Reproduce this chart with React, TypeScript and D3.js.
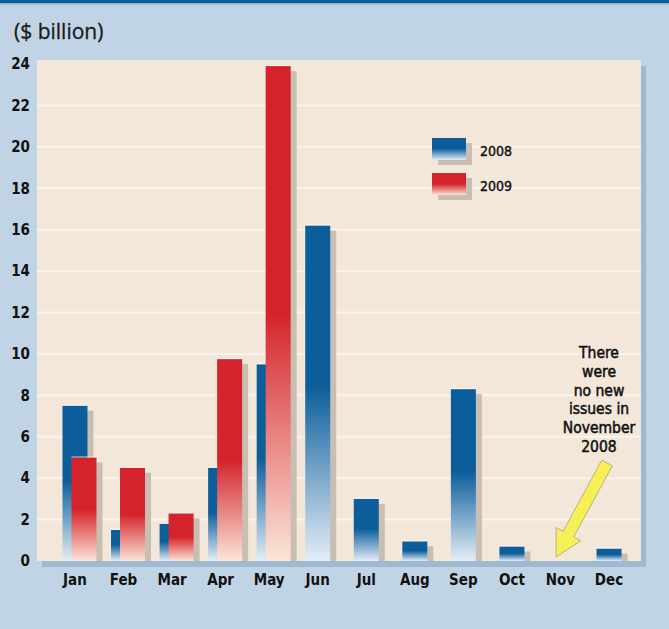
import React from "react";
import * as d3 from "d3";

const months = ["Jan", "Feb", "Mar", "Apr", "May", "Jun", "Jul", "Aug", "Sep", "Oct", "Nov", "Dec"];
const values2008 = [7.5, 1.5, 1.8, 4.5, 9.5, 16.2, 3.0, 0.95, 8.3, 0.7, 0, 0.6];
const values2009: (number | null)[] = [5.0, 4.5, 2.3, 9.75, 23.9, null, null, null, null, null, null, null];
const yTicks = [0, 2, 4, 6, 8, 10, 12, 14, 16, 18, 20, 22, 24];
const seriesNames = ["2008", "2009"];
const unitLabel = "($ billion)";
const noteLines = ["There", "were", "no new", "issues in", "November", "2008"];

const W = 669;
const H = 629;
const plot = { x0: 37, x1: 641, y0: 60, y1: 561 };
const FONT = "'DejaVu Sans Condensed', 'Arial Narrow', sans-serif";

export default function App() {
  const y = d3.scaleLinear().domain([0, 24]).range([561, 64]);
  const x = d3.scaleBand().domain(months).range([50.7, 633.3]).padding(0);
  const step = x.bandwidth();
  const cx = (m: string) => (x(m) as number) + step / 2;
  const barW = 25;
  const sh = { dx: 6, dy: 5 };

  const blueSolid = "#0c5e9b";
  const blueLight = "#e4edf6";
  const redSolid = "#d5232b";
  const redLight = "#fbe5d8";

  const bar = (x0: number, v: number, fill: string, key: string) => {
    const top = y(v);
    const bottom = y(0);
    const h = bottom - top;
    return (
      <g key={key}>
        <rect x={x0 + sh.dx} y={Math.min(top + sh.dy, bottom)} width={barW} height={Math.max(0, bottom - top - sh.dy)} fill="#c8beb2" />
        <rect x={x0} y={top} width={barW} height={h} fill={fill} />
        <line x1={x0} x2={x0 + barW} y1={top - 0.5} y2={top - 0.5} stroke="#ffffff" strokeOpacity={0.7} strokeWidth={1} />
      </g>
    );
  };

  // arrow geometry
  const tail: [number, number] = [607, 463];
  const tip: [number, number] = [556, 557];
  const ang = Math.atan2(tip[1] - tail[1], tip[0] - tail[0]);
  const len = Math.hypot(tip[0] - tail[0], tip[1] - tail[1]);
  const ux = Math.cos(ang), uy = Math.sin(ang);
  const px = -uy, py = ux;
  const shaftHalf = 6, headHalf = 14, headLen = 26;
  const pt = (a: number, b: number) => [tail[0] + ux * a + px * b, tail[1] + uy * a + py * b];
  const arrowPts = [
    pt(0, -shaftHalf),
    pt(len - headLen, -shaftHalf),
    pt(len - headLen, -headHalf),
    pt(len, 0),
    pt(len - headLen, headHalf),
    pt(len - headLen, shaftHalf),
    pt(0, shaftHalf),
  ].map((p) => p.join(",")).join(" ");

  return (
    <svg width={W} height={H} style={{ position: "absolute", left: 0, top: 0 }} fontFamily={FONT}>
      <defs>
        <linearGradient id="gBlue" x1="0" y1="0" x2="0" y2="1">
          <stop offset="0" stopColor={blueSolid} />
          <stop offset="0.48" stopColor={blueSolid} />
          <stop offset="1" stopColor={blueLight} />
        </linearGradient>
        <linearGradient id="gRed" x1="0" y1="0" x2="0" y2="1">
          <stop offset="0" stopColor={redSolid} />
          <stop offset="0.5" stopColor={redSolid} />
          <stop offset="1" stopColor={redLight} />
        </linearGradient>
      </defs>
      <rect x={0} y={0} width={W} height={H} fill="#c1d4e6" />
      <rect x={0} y={0} width={W} height={3.5} fill="#0f5c98" />
      <rect x={0} y={3.5} width={W} height={2} fill="#a9c3dc" />

      <text x={14} y={39} fontSize={21} fill="#1a1a1a" stroke="#1a1a1a" strokeWidth={0.3} style={{ fontFamily: "'Open Sans', 'DejaVu Sans', sans-serif" }}>{unitLabel}</text>

      {/* plot frame with shadow */}
      <rect x={plot.x0 + 5} y={plot.y0 + 6} width={plot.x1 - plot.x0} height={plot.y1 - plot.y0} fill="#9fb9d4" />
      <rect x={plot.x0} y={plot.y0} width={plot.x1 - plot.x0} height={plot.y1 - plot.y0} fill="#f3e7da" />

      {yTicks.map((t) => (
        <g key={t}>
          {t > 0 && t < 24 && (
            <line x1={plot.x0} x2={plot.x1} y1={y(t)} y2={y(t)} stroke="#fbf4ec" strokeWidth={2} />
          )}
          <text x={30} y={y(t)} dy="0.35em" textAnchor="end" fontSize={15} fontWeight={700} fill="#111">{t}</text>
        </g>
      ))}

      {months.map((m, i) => (
        <g key={m}>
          {values2008[i] > 0 && bar(cx(m) - 12.5, values2008[i], "url(#gBlue)", m + "b")}
          {values2009[i] != null && bar(cx(m) - 3.5, values2009[i] as number, "url(#gRed)", m + "r")}
          <text x={cx(m)} y={585} textAnchor="middle" fontSize={15} fontWeight={700} fill="#111">{m}</text>
        </g>
      ))}

      {/* legend */}
      {seriesNames.map((s, i) => {
        const ly = 138 + i * 35;
        return (
          <g key={s}>
            <rect x={438} y={ly + 5} width={34} height={22} fill="#c8beb2" />
            <rect x={432} y={ly} width={34} height={22} fill={i === 0 ? "url(#gBlue)" : "url(#gRed)"} />
            <text x={480} y={ly + 18} fontSize={14} fill="#111" stroke="#111" strokeWidth={0.4}>{s}</text>
          </g>
        );
      })}

      {/* annotation */}
      {noteLines.map((l, i) => (
        <text key={i} x={599} y={358 + i * 18.8} textAnchor="middle" fontSize={15.5} fill="#111" stroke="#111" strokeWidth={0.5}>{l}</text>
      ))}
      <polygon points={arrowPts} fill="#f6ef55" stroke="#b9b28a" strokeWidth={1} />
    </svg>
  );
}
